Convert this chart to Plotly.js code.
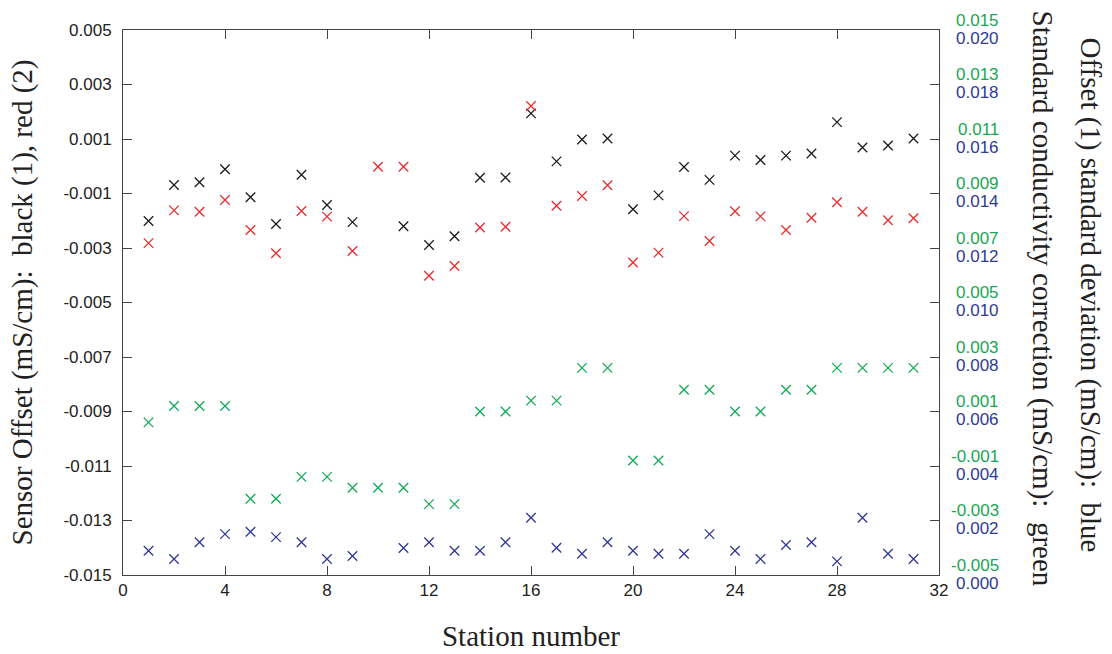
<!DOCTYPE html>
<html>
<head>
<meta charset="utf-8">
<script src="https://cdn.plot.ly/plotly-3.0.1.min.js"></script>
<style>html,body{margin:0;padding:0;background:#fff;}#chart{width:1112px;height:654px;}</style>
</head>
<body>
<div id="chart"></div>
<script>
const stations = [1,2,3,4,5,6,7,8,9,10,11,12,13,14,15,16,17,18,19,20,21,22,23,24,25,26,27,28,29,30,31];
const offsetBlack = [-0.00201,-0.00069,-0.00059,-0.00011,-0.00114,-0.00212,-0.00031,-0.00142,-0.00205,null,-0.00220,-0.00289,-0.00257,-0.00042,-0.00041,0.00194,0.00018,0.00098,0.00102,-0.00158,-0.00107,-0.00003,-0.00050,0.00039,0.00023,0.00039,0.00047,0.00162,0.00069,0.00076,0.00102];
const offsetRed = [-0.00282,-0.00162,-0.00167,-0.00124,-0.00234,-0.00319,-0.00164,-0.00185,-0.00311,-0.00002,-0.00002,-0.00402,-0.00366,-0.00225,-0.00222,0.00221,-0.00145,-0.00109,-0.00070,-0.00353,-0.00317,-0.00183,-0.00274,-0.00165,-0.00184,-0.00234,-0.00189,-0.00132,-0.00167,-0.00198,-0.00191];
const correctionGreen = [0.0006,0.0012,0.0012,0.0012,-0.0022,-0.0022,-0.0014,-0.0014,-0.0018,-0.0018,-0.0018,-0.0024,-0.0024,0.0010,0.0010,0.0014,0.0014,0.0026,0.0026,-0.0008,-0.0008,0.0018,0.0018,0.0010,0.0010,0.0018,0.0018,0.0026,0.0026,0.0026,0.0026];
const stdDevBlue = [0.00089,0.00059,0.0012,0.0015,0.00159,0.00139,0.0012,0.00059,0.0007,null,0.00099,0.0012,0.00089,0.00089,0.0012,0.0021,0.0010,0.00078,0.0012,0.00089,0.00078,0.00078,0.0015,0.00089,0.00059,0.0011,0.0012,0.0005,0.0021,0.00078,0.00059];

const leftTickVals = [0.005,0.003,0.001,-0.001,-0.003,-0.005,-0.007,-0.009,-0.011,-0.013,-0.015];
const leftTickText = ["0.005","0.003","0.001","-0.001","-0.003","-0.005","-0.007","-0.009","-0.011","-0.013","-0.015"];
const greenTickVals = [0.015,0.013,0.011,0.009,0.007,0.005,0.003,0.001,-0.001,-0.003,-0.005];
const greenTickText = ["0.015","0.013","0.011","0.009","0.007","0.005","0.003","0.001","-0.001","-0.003","-0.005"];
const blueTickVals = [0.020,0.018,0.016,0.014,0.012,0.010,0.008,0.006,0.004,0.002,0.000];
const blueTickText = ["0.020","0.018","0.016","0.014","0.012","0.010","0.008","0.006","0.004","0.002","0.000"];
const xTickVals = [0,4,8,12,16,20,24,28,32];

const C_BLACK = '#1a1a1a', C_RED = '#ec2a2f', C_GREEN = '#0faa55', C_BLUE = '#2f3796';
const GREEN_TXT = '#1aa653', BLUE_TXT = '#2e3a96';
const SANS = 'Liberation Sans, Arial, sans-serif';
const SERIF = 'Liberation Serif, Times New Roman, serif';

function mk(y, color, yaxis, name) {
  return {x: stations, y: y, type: 'scatter', mode: 'markers', name: name, yaxis: yaxis,
    marker: {symbol: 'x-thin-open', size: 9.5, color: color, line: {color: color, width: 1.3}},
    hoverinfo: 'x+y'};
}
const traces = [
  mk(correctionGreen, C_GREEN, 'y2', 'Standard conductivity correction'),
  mk(stdDevBlue, C_BLUE, 'y3', 'Offset (1) standard deviation'),
  mk(offsetBlack, C_BLACK, 'y', 'Sensor offset (1)'),
  mk(offsetRed, C_RED, 'y', 'Sensor offset (2)')
];

const annotations = [];
greenTickVals.forEach((v, i) => annotations.push({xref: 'paper', yref: 'y2', x: 1, y: v, xshift: 62, yshift: 10,
  xanchor: 'right', yanchor: 'middle', showarrow: false, text: greenTickText[i],
  font: {family: SANS, size: 17, color: GREEN_TXT}}));
blueTickVals.forEach((v, i) => annotations.push({xref: 'paper', yref: 'y3', x: 1, y: v, xshift: 62, yshift: -8,
  xanchor: 'right', yanchor: 'middle', showarrow: false, text: blueTickText[i],
  font: {family: SANS, size: 17, color: BLUE_TXT}}));
annotations.push({xref: 'paper', yref: 'paper', x: 1, y: 0.5, xshift: 151, yshift: 8, xanchor: 'center', yanchor: 'middle',
  textangle: 90, showarrow: false, text: 'Offset (1) standard deviation (mS/cm):  blue',
  font: {family: SERIF, size: 29, color: '#222'}});
annotations.push({xref: 'paper', yref: 'paper', x: 1, y: 0.5, xshift: 103, yshift: 4, xanchor: 'center', yanchor: 'middle',
  textangle: 90, showarrow: false, text: 'Standard conductivity correction (mS/cm):  green',
  font: {family: SERIF, size: 29, color: '#222'}});

const layout = {
  width: 1112, height: 654,
  margin: {l: 123, r: 173, t: 30, b: 79},
  paper_bgcolor: '#fff', plot_bgcolor: '#fff',
  showlegend: false,
  font: {family: SANS, size: 17, color: '#222'},
  xaxis: {range: [0, 32], tickvals: xTickVals, ticktext: xTickVals.map(String), ticks: 'inside', ticklen: 9,
    tickcolor: '#444', showline: true, linecolor: '#444', linewidth: 1, mirror: 'ticks', showgrid: false, zeroline: false,
    title: {text: 'Station number', font: {family: SERIF, size: 29, color: '#222'}, standoff: 26}},
  yaxis: {range: [-0.015, 0.005], tickvals: leftTickVals, ticktext: leftTickText, ticks: 'inside', ticklen: 9,
    ticklabelstandoff: 7,
    tickcolor: '#444', showline: true, linecolor: '#444', linewidth: 1, mirror: 'ticks', showgrid: false, zeroline: false,
    title: {text: 'Sensor Offset (mS/cm):  black (1), red (2)', font: {family: SERIF, size: 29, color: '#222'}, standoff: 22}},
  yaxis2: {range: [-0.005, 0.015], overlaying: 'y', side: 'right', visible: false},
  yaxis3: {range: [0.000, 0.020], overlaying: 'y', side: 'right', visible: false},
  annotations: annotations
};

Plotly.newPlot('chart', traces, layout, {displayModeBar: false, staticPlot: true});
</script>
</body>
</html>
